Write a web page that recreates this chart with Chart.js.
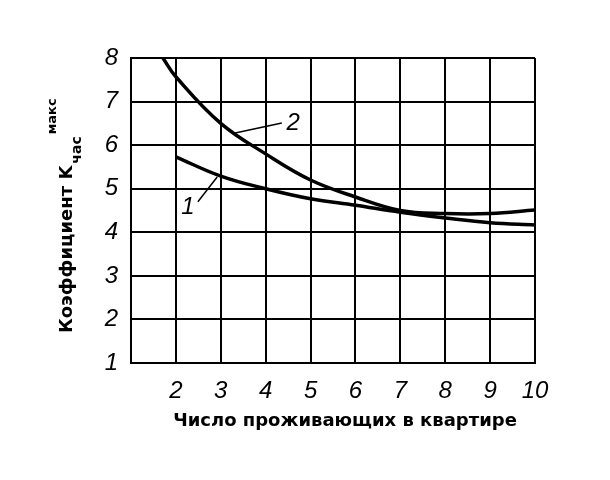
<!DOCTYPE html>
<html><head><meta charset="utf-8">
<script src="https://cdn.jsdelivr.net/npm/chart.js@4.4.0/dist/chart.umd.min.js"></script>
<style>html,body{margin:0;padding:0;background:#fff;}#wrap{width:610px;height:480px;}</style>
</head><body><div id="wrap"><canvas id="c" width="610" height="480"></canvas></div>
<script>
// Data
const xCurve2 = [1.71, 2, 3, 4, 5, 6, 7, 8, 9, 10];
const yCurve2 = [8.0, 7.57, 6.5, 5.8, 5.2, 4.81, 4.5, 4.43, 4.43, 4.51];
const xCurve1 = [2, 3, 4, 5, 6, 7, 8, 9, 10];
const yCurve1 = [5.73, 5.29, 5.0, 4.77, 4.62, 4.46, 4.33, 4.22, 4.17];
const xTicks = [1, 2, 3, 4, 5, 6, 7, 8, 9, 10];
const yTicks = [1, 2, 3, 4, 5, 6, 7, 8];
const curveLabels = ["1", "2"];
const labelX = [2.27, 4.61];
const labelY = [4.58, 6.51];
const leader1X = [2.49, 2.92];
const leader1Y = [4.70, 5.27];
const leader2X = [4.36, 3.32];
const leader2Y = [6.51, 6.28];
const xTitle = "Число проживающих в квартире";
const yTitleMain = "Коэффициент K";
const yTitleSub = "час";
const yTitleSup = "макс";

const pts = (xs, ys) => xs.map((x, i) => ({x: x, y: ys[i]}));

const textPlugin = {
  id: 'texts',
  afterDraw(chart) {
    const ctx = chart.ctx;
    const xs = chart.scales.x, ys = chart.scales.y;
    ctx.save();
    ctx.fillStyle = '#000';
    // curve labels
    ctx.font = 'italic 24px "Liberation Sans"';
    ctx.textAlign = 'center';
    ctx.textBaseline = 'middle';
    curveLabels.forEach((t, i) => {
      ctx.fillText(t, xs.getPixelForValue(labelX[i]), ys.getPixelForValue(labelY[i]));
    });
    // x title
    ctx.font = 'bold 18px "DejaVu Sans"';
    ctx.fillText(xTitle, 345, 421);
    // y title rotated
    ctx.translate(67, 333);
    ctx.rotate(-Math.PI / 2);
    ctx.textAlign = 'left';
    ctx.textBaseline = 'middle';
    ctx.font = 'bold 18px "DejaVu Sans"';
    ctx.fillText(yTitleMain, 0, 0);
    const w = ctx.measureText(yTitleMain).width;
    ctx.font = 'bold 14px "DejaVu Sans"';
    ctx.fillText(yTitleSub, w + 2, 10);
    const ws = ctx.measureText(yTitleSub).width;
    ctx.font = 'bold 13px "DejaVu Sans"';
    ctx.fillText(yTitleSup, w + ws + 4, -14);
    ctx.restore();
  }
};

new Chart(document.getElementById('c'), {
  type: 'scatter',
  data: {
    datasets: [
      {data: pts(xCurve2, yCurve2), showLine: true, borderColor: '#000', borderWidth: 3.5, pointRadius: 0, tension: 0.4},
      {data: pts(xCurve1, yCurve1), showLine: true, borderColor: '#000', borderWidth: 3.5, pointRadius: 0, tension: 0.4},
      {data: pts(leader1X, leader1Y), showLine: true, borderColor: '#000', borderWidth: 1.5, pointRadius: 0},
      {data: pts(leader2X, leader2Y), showLine: true, borderColor: '#000', borderWidth: 1.5, pointRadius: 0}
    ]
  },
  options: {
    responsive: false,
    animation: false,
    devicePixelRatio: 1,
    layout: {padding: {left: 81, right: 75, top: 58, bottom: 0}},
    plugins: {legend: {display: false}, tooltip: {enabled: false}},
    scales: {
      x: {
        type: 'linear', min: 1, max: 10,
        afterFit(s) { s.height = 117; },
        afterBuildTicks(s) { s.ticks = xTicks.map(v => ({value: v})); },
        grid: {color: '#000', lineWidth: 2, drawTicks: false},
        border: {color: '#000', width: 2},
        ticks: {
          padding: 14, color: '#000',
          font: {family: 'Liberation Sans', style: 'italic', size: 24},
          callback: v => v === 1 ? '' : String(v)
        }
      },
      y: {
        type: 'linear', min: 1, max: 8,
        afterFit(s) { s.width = 50; },
        afterBuildTicks(s) { s.ticks = yTicks.map(v => ({value: v})); },
        grid: {color: '#000', lineWidth: 2, drawTicks: false},
        border: {color: '#000', width: 2},
        ticks: {
          padding: 13, color: '#000',
          font: {family: 'Liberation Sans', style: 'italic', size: 24},
          callback: v => String(v)
        }
      }
    }
  },
  plugins: [textPlugin, {id: 'bg', beforeDraw(c) { c.ctx.save(); c.ctx.fillStyle = '#fff'; c.ctx.fillRect(0, 0, c.width, c.height); c.ctx.restore(); }}]
});
</script></body></html>
